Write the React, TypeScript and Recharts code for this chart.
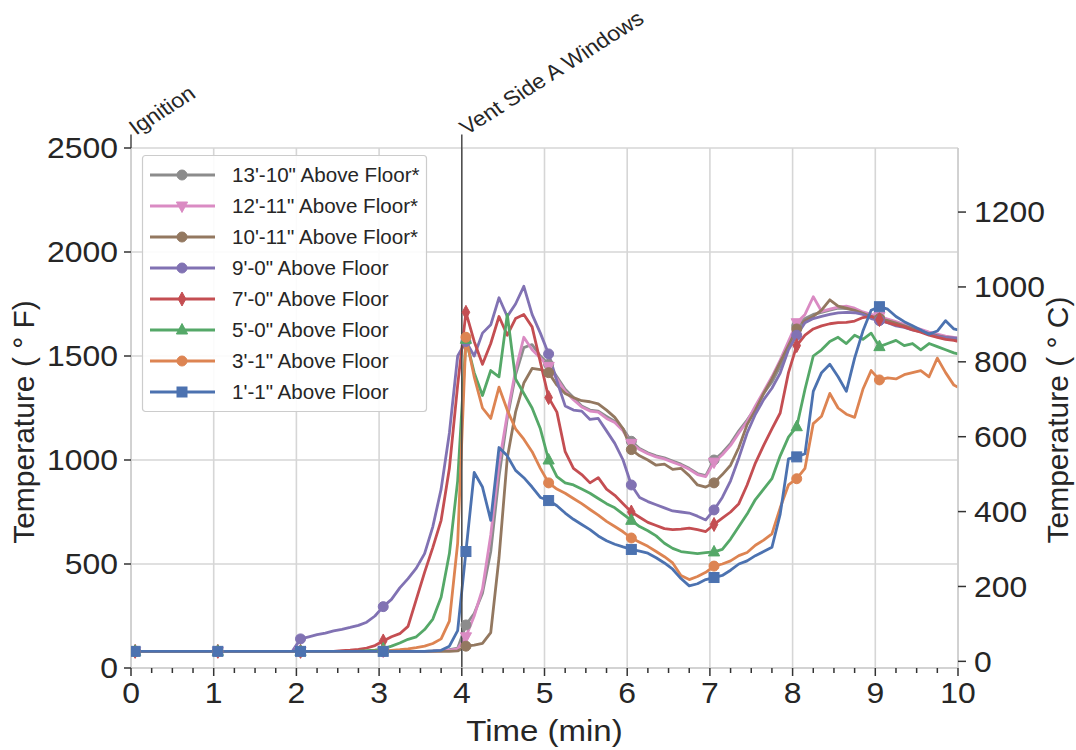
import React from 'react';
import { LineChart, Line, XAxis, YAxis, CartesianGrid, ReferenceLine } from 'recharts';

const FONT = '"Liberation Sans", Arial, Helvetica, sans-serif';
const TEXT = '#262626';

// time (min)
const TIME = [
  0,
  0.05, 0.15, 0.25, 0.35, 0.45, 0.55, 0.65, 0.75, 0.85, 0.95,
  1.05, 1.15, 1.25, 1.35, 1.45, 1.55, 1.65, 1.75, 1.85, 1.95,
  2.05, 2.15, 2.25, 2.35, 2.45, 2.55, 2.65, 2.75, 2.85, 2.95,
  3.05, 3.15, 3.25, 3.35, 3.45, 3.55, 3.65, 3.75, 3.85, 3.95,
  4.05, 4.15, 4.25, 4.35, 4.45, 4.55, 4.65, 4.75, 4.85, 4.95,
  5.05, 5.15, 5.25, 5.35, 5.45, 5.55, 5.65, 5.75, 5.85, 5.95,
  6.05, 6.15, 6.25, 6.35, 6.45, 6.55, 6.65, 6.75, 6.85, 6.95,
  7.05, 7.15, 7.25, 7.35, 7.45, 7.55, 7.65, 7.75, 7.85, 7.95,
  8.05, 8.15, 8.25, 8.35, 8.45, 8.55, 8.65, 8.75, 8.85, 8.95,
  9.05, 9.15, 9.25, 9.35, 9.45, 9.55, 9.65, 9.75, 9.85, 9.95,
  10,
];

// temperatures (°F)
const T_13_10 = [
  80,
  80, 80, 80, 80, 80, 80, 80, 80, 80, 80,
  80, 80, 80, 80, 80, 80, 80, 80, 80, 80,
  80, 80, 80, 80, 80, 80, 80, 80, 80, 80,
  80, 80, 80, 80, 80, 80, 82, 84, 88, 95,
  207, 262, 360, 560, 920, 1200, 1410, 1540, 1555, 1500,
  1460, 1400, 1340, 1300, 1260, 1240, 1235, 1210, 1185, 1150,
  1090, 1055, 1035, 1020, 1010, 995, 980, 960, 935, 925,
  1000, 1035, 1080, 1140, 1192, 1250, 1320, 1375, 1450, 1550,
  1645, 1680, 1700, 1710, 1720, 1730, 1728, 1720, 1705, 1695,
  1685, 1675, 1662, 1650, 1635, 1625, 1612, 1600, 1592, 1587,
  1585,
];
const T_12_11 = [
  80,
  80, 80, 80, 80, 80, 80, 80, 80, 80, 80,
  80, 80, 80, 80, 80, 80, 80, 80, 80, 80,
  80, 80, 80, 80, 80, 80, 80, 80, 80, 80,
  80, 80, 80, 80, 80, 80, 81, 83, 86, 92,
  150, 250, 380, 640, 980, 1220, 1430, 1590, 1530, 1490,
  1450, 1390, 1330, 1290, 1255, 1235, 1230, 1200, 1180, 1140,
  1080, 1050, 1030, 1015, 1005, 990, 975, 955, 930, 920,
  990, 1025, 1070, 1130, 1185, 1260, 1330, 1400, 1480, 1570,
  1660, 1700, 1785, 1715, 1725, 1735, 1740, 1730, 1712, 1700,
  1690, 1678, 1665, 1652, 1640, 1628, 1615, 1605, 1596, 1590,
  1588,
];
const T_10_11 = [
  80,
  80, 80, 80, 80, 80, 80, 80, 80, 80, 80,
  80, 80, 80, 80, 80, 80, 80, 80, 80, 80,
  80, 80, 80, 80, 80, 80, 80, 80, 80, 80,
  80, 80, 80, 80, 80, 80, 80, 80, 80, 82,
  105, 110, 118, 170, 530, 1010, 1230, 1370, 1440, 1435,
  1420, 1360, 1320, 1300, 1285, 1280, 1270, 1240, 1205, 1150,
  1050, 1020, 1000, 975, 980, 955, 960, 925, 880, 870,
  890, 930, 975, 1060, 1170, 1240, 1320, 1390, 1470, 1550,
  1630, 1670, 1690, 1720, 1770, 1740, 1730, 1720, 1705, 1690,
  1680, 1670, 1658, 1645, 1632, 1620, 1608, 1598, 1590, 1585,
  1582,
];
const T_9_0 = [
  80,
  80, 80, 80, 80, 80, 80, 80, 80, 80, 80,
  80, 80, 80, 80, 80, 80, 80, 80, 80, 80,
  140, 150, 160, 168, 178, 186, 195, 205, 220, 250,
  295, 330, 385, 430, 480, 550, 680, 860, 1130, 1500,
  1570, 1500, 1610, 1650, 1780, 1690, 1750, 1835, 1700, 1610,
  1510, 1380, 1260, 1240, 1235, 1195, 1200, 1140, 1080, 1000,
  880, 820, 800, 785, 770, 755, 750, 745, 730, 712,
  760, 820, 900, 1010, 1130, 1220, 1290, 1345, 1418, 1530,
  1600, 1660, 1680, 1690, 1700, 1707, 1710, 1708, 1700, 1680,
  1670, 1660, 1645, 1638, 1625, 1617, 1605, 1595, 1590, 1587,
  1585,
];
const T_7_0 = [
  80,
  80, 80, 80, 80, 80, 80, 80, 80, 80, 80,
  80, 80, 80, 80, 80, 80, 80, 80, 80, 80,
  80, 80, 80, 80, 80, 83, 86, 90, 96, 108,
  130, 150, 165, 200, 330, 460, 580, 710, 960, 1360,
  1710, 1570, 1460, 1560, 1690, 1600, 1680, 1700, 1640, 1470,
  1300, 1230, 1040, 960, 930, 890, 915, 860, 830, 790,
  750, 725, 700, 685, 670, 665, 668, 672, 665, 656,
  690, 720, 750, 790, 880, 985, 1070, 1150, 1226, 1420,
  1550, 1600, 1630, 1645, 1655, 1660, 1662, 1668, 1685, 1690,
  1675, 1660, 1650, 1640, 1625, 1615, 1600, 1590, 1580, 1575,
  1570,
];
const T_5_0 = [
  80,
  80, 80, 80, 80, 80, 80, 80, 80, 80, 80,
  80, 80, 80, 80, 80, 80, 80, 80, 80, 80,
  80, 80, 80, 80, 80, 80, 80, 81, 83, 86,
  92, 105, 120, 138, 150, 185, 235, 340, 550, 900,
  1580, 1420, 1310, 1430, 1400, 1700, 1390, 1320, 1250, 1150,
  1000, 920, 890, 880, 860, 840, 815, 790, 770, 740,
  710, 680, 660, 635, 600, 575, 560, 555, 550, 555,
  558, 570, 620, 680, 740, 810, 860, 910, 1020, 1110,
  1160, 1340, 1500, 1530, 1570, 1590, 1560, 1600, 1580, 1610,
  1545, 1560, 1575, 1550, 1560, 1530, 1560, 1545, 1530, 1515,
  1510,
];
const T_3_1 = [
  80,
  80, 80, 80, 80, 80, 80, 80, 80, 80, 80,
  80, 80, 80, 80, 80, 80, 80, 80, 80, 80,
  80, 80, 80, 80, 80, 80, 80, 80, 80, 81,
  82, 85, 88, 92, 98, 105, 118, 140, 225, 600,
  1590, 1400, 1250, 1200, 1350, 1240, 1150, 1100, 1040, 960,
  890, 860, 840, 815, 790, 762, 735, 705, 680, 655,
  625, 605, 585, 560, 535, 505, 445, 425, 440, 460,
  490, 500, 515, 540, 555, 590, 615, 645, 770, 880,
  910, 960, 1175, 1210, 1320, 1250, 1220, 1205, 1340, 1430,
  1385, 1395, 1390, 1410, 1420, 1430, 1400, 1490, 1420, 1360,
  1350,
];
const T_1_1 = [
  80,
  80, 80, 80, 80, 80, 80, 80, 80, 80, 80,
  80, 80, 80, 80, 80, 80, 80, 80, 80, 80,
  80, 80, 80, 80, 80, 80, 80, 80, 80, 80,
  80, 80, 80, 80, 80, 80, 82, 85, 105, 180,
  560, 940, 870, 710, 1060, 1020, 950, 915, 870, 820,
  805, 780, 745, 715, 690, 665, 635, 612, 595, 582,
  570, 562, 552, 530, 505, 475, 430, 395, 405, 425,
  435, 445, 470, 500, 515, 540, 560, 580, 740, 1005,
  1015, 1030, 1330, 1420, 1460, 1400, 1330, 1490, 1620, 1720,
  1737, 1725, 1690, 1665, 1645, 1625, 1605, 1620, 1670, 1630,
  1625,
];

const SERIES_NAMES = [
  '13\'-10" Above Floor*',
  '12\'-11" Above Floor*',
  '10\'-11" Above Floor*',
  '9\'-0" Above Floor',
  '7\'-0" Above Floor',
  '5\'-0" Above Floor',
  '3\'-1" Above Floor',
  '1\'-1" Above Floor',
];
const SERIES_VALUES = [T_13_10, T_12_11, T_10_11, T_9_0, T_7_0, T_5_0, T_3_1, T_1_1];
const SERIES_COLORS = ['#8C8C8C', '#DA8BC3', '#937860', '#8172B3', '#C44E52', '#55A868', '#DD8452', '#4C72B0'];
const SERIES_MARKERS = ['circle', 'triDown', 'circle', 'circle', 'thinDiamond', 'triUp', 'circle', 'square'];
// markers drawn at these times
const MARKER_TIMES = [0.05, 1.05, 2.05, 3.05, 4.05, 5.05, 6.05, 7.05, 8.05, 9.05];

const F_TICKS = [0, 500, 1000, 1500, 2000, 2500];
const C_TICKS = [0, 200, 400, 600, 800, 1000, 1200];
const X_MAJOR = [0, 1, 2, 3, 4, 5, 6, 7, 8, 9, 10];
const X_TICKS = [
  0, 0.25, 0.5, 0.75, 1, 1.25, 1.5, 1.75, 2, 2.25, 2.5, 2.75, 3, 3.25, 3.5, 3.75,
  4, 4.25, 4.5, 4.75, 5, 5.25, 5.5, 5.75, 6, 6.25, 6.5, 6.75, 7, 7.25, 7.5, 7.75,
  8, 8.25, 8.5, 8.75, 9, 9.25, 9.5, 9.75, 10,
];
const EVENTS = [
  { t: 0, label: 'Ignition', from: 2500 },
  { t: 4, label: 'Vent Side A Windows', from: 0 },
];
const EVENT_TOP = 2565;

const F_MIN = 0;
const F_MAX = 2500;
const C_MIN = ((F_MIN - 32) * 5) / 9;
const C_MAX = ((F_MAX - 32) * 5) / 9;

const TICK_FONT = 29;
const TITLE_FONT = 30;
const STRETCH = 1.1; // horizontal widening of glyphs seen in the reference

function Marker({ shape, cx, cy, color }: { shape: string; cx: number; cy: number; color: string }) {
  switch (shape) {
    case 'square':
      return <rect x={cx - 5} y={cy - 5} width={10} height={10} fill={color} stroke={color} strokeWidth={1} />;
    case 'triUp':
      return <polygon points={`${cx},${cy - 6.5} ${cx - 5.6},${cy + 4} ${cx + 5.6},${cy + 4}`} fill={color} stroke={color} strokeWidth={1} />;
    case 'triDown':
      return <polygon points={`${cx},${cy + 6.5} ${cx - 5.6},${cy - 4} ${cx + 5.6},${cy - 4}`} fill={color} stroke={color} strokeWidth={1} />;
    case 'thinDiamond':
      return <polygon points={`${cx},${cy - 7} ${cx + 3.8},${cy} ${cx},${cy + 7} ${cx - 3.8},${cy}`} fill={color} stroke={color} strokeWidth={1} />;
    default:
      return <circle cx={cx} cy={cy} r={5} fill={color} stroke={color} strokeWidth={1} />;
  }
}

const isMarkerTime = (t: number) => MARKER_TIMES.some((m) => Math.abs(m - t) < 1e-6);

const makeDot = (shape: string, color: string) => (props: any) => {
  const { cx, cy, index, payload } = props;
  if (!payload || !isMarkerTime(payload.t) || cx == null || cy == null) {
    return <g key={`n-${index}`} />;
  }
  return (
    <g key={`m-${index}`}>
      <Marker shape={shape} cx={cx} cy={cy} color={color} />
    </g>
  );
};

// text widened horizontally around its anchor point
const WideText = ({ x, y, anchor, size, children }: any) => (
  <g transform={`translate(${x}, ${y}) scale(${STRETCH}, 1)`}>
    <text x={0} y={0} textAnchor={anchor} fontSize={size} fill={TEXT} fontFamily={FONT}>
      {children}
    </text>
  </g>
);

const XTick = (props: any) => {
  const { x, y, payload } = props;
  const v = payload.value;
  const major = Math.abs(v - Math.round(v)) < 1e-6;
  return (
    <g>
      <line x1={x} x2={x} y1={y} y2={y + (major ? 8 : 5)} stroke="#333" strokeWidth={1.5} />
      {major && (
        <WideText x={x} y={y + 35} anchor="middle" size={TICK_FONT}>
          {v}
        </WideText>
      )}
    </g>
  );
};

const LeftYTick = (props: any) => {
  const { x, y, payload } = props;
  return (
    <WideText x={x} y={y + TICK_FONT * 0.355} anchor="end" size={TICK_FONT}>
      {payload.value}
    </WideText>
  );
};

const RightYTick = (props: any) => {
  const { x, y, payload } = props;
  return (
    <WideText x={x} y={y + TICK_FONT * 0.355} anchor="start" size={TICK_FONT}>
      {payload.value}
    </WideText>
  );
};

const gridX = (args: any) => {
  const { xAxis, offset } = args;
  return X_MAJOR.map((v) =>
    xAxis && typeof xAxis.scale === 'function' ? xAxis.scale(v) : offset.left + (v / 10) * offset.width
  );
};

const XTitle = (props: any) => {
  const vb = props.viewBox || {};
  return (
    <WideText x={vb.x + vb.width / 2} y={vb.y + 73} anchor="middle" size={TITLE_FONT}>
      Time (min)
    </WideText>
  );
};

const LeftTitle = (props: any) => {
  const vb = props.viewBox || {};
  const x = vb.x - 27;
  const y = vb.y + vb.height / 2 + 14;
  return (
    <text x={x} y={y} transform={`rotate(-90, ${x}, ${y})`} textAnchor="middle" fontSize={TITLE_FONT} fill={TEXT} fontFamily={FONT}>
      Temperature ( ° F)
    </text>
  );
};

const RightTitle = (props: any) => {
  const vb = props.viewBox || {};
  const x = vb.x + 110;
  const y = vb.y + vb.height / 2 + 12;
  return (
    <text x={x} y={y} transform={`rotate(-90, ${x}, ${y})`} textAnchor="middle" fontSize={TITLE_FONT} fill={TEXT} fontFamily={FONT}>
      Temperature ( ° C)
    </text>
  );
};

const makeEventLabel = (text: string) => (props: any) => {
  const vb = props.viewBox || {};
  const x = (vb.x ?? 0) + 5;
  const y = (vb.y ?? 0) + 1;
  return (
    <g transform={`translate(${x}, ${y}) scale(${STRETCH}, 1) rotate(-35)`}>
      <text x={0} y={0} fontSize={21} fill={TEXT} fontFamily={FONT}>
        {text}
      </text>
    </g>
  );
};

function LegendBox() {
  return (
    <svg width={288} height={258} style={{ display: 'block', overflow: 'visible' }}>
      <rect x={0.5} y={0.5} width={284} height={256} rx={3} fill="rgba(255,255,255,0.9)" stroke="#cccccc" strokeWidth={1.2} />
      {SERIES_NAMES.map((name, i) => {
        const cy = 20 + i * 31;
        return (
          <g key={name}>
            <line x1={8} x2={73} y1={cy} y2={cy} stroke={SERIES_COLORS[i]} strokeWidth={2.8} />
            <Marker shape={SERIES_MARKERS[i]} cx={40} cy={cy} color={SERIES_COLORS[i]} />
            <g transform={`translate(90, ${cy + 7}) scale(1.03, 1)`}>
              <text x={0} y={0} fontSize={20} fill={TEXT} fontFamily={FONT}>
                {name}
              </text>
            </g>
          </g>
        );
      })}
    </svg>
  );
}

export default function App() {
  const data = TIME.map((t, i) => {
    const row: any = { t };
    SERIES_VALUES.forEach((vals, s) => {
      row[`s${s}`] = vals[i];
    });
    return row;
  });

  return (
    <div style={{ position: 'absolute', left: 0, top: 0, width: 1076, height: 750, background: '#ffffff', fontFamily: FONT }}>
      <LineChart width={1076} height={750} data={data} margin={{ top: 148, right: 48, bottom: 42, left: 61 }}>
        <CartesianGrid yAxisId="left" stroke="#d6d6d6" strokeWidth={1.6} verticalCoordinatesGenerator={gridX} />
        <XAxis
          dataKey="t"
          type="number"
          domain={[0, 10]}
          ticks={X_TICKS}
          interval={0}
          tickSize={0}
          tickMargin={0}
          tickLine={false}
          tick={XTick}
          axisLine={{ stroke: '#cfcfcf', strokeWidth: 1.6 }}
          height={40}
          allowDataOverflow
          label={XTitle}
        />
        <YAxis
          yAxisId="left"
          type="number"
          domain={[F_MIN, F_MAX]}
          ticks={F_TICKS}
          interval={0}
          width={70}
          tickSize={7}
          tickMargin={6}
          tick={LeftYTick}
          tickLine={{ stroke: '#333', strokeWidth: 1.5 }}
          axisLine={{ stroke: '#cfcfcf', strokeWidth: 1.6 }}
          allowDataOverflow
          label={LeftTitle}
        />
        <YAxis
          yAxisId="right"
          orientation="right"
          type="number"
          domain={[C_MIN, C_MAX]}
          ticks={C_TICKS}
          interval={0}
          width={70}
          tickSize={8}
          tickMargin={8}
          tick={RightYTick}
          tickLine={{ stroke: '#333', strokeWidth: 1.5 }}
          axisLine={{ stroke: '#cfcfcf', strokeWidth: 1.6 }}
          allowDataOverflow
          label={RightTitle}
        />
        {SERIES_NAMES.map((name, s) => (
          <Line
            key={name}
            name={name}
            yAxisId="left"
            type="linear"
            dataKey={`s${s}`}
            stroke={SERIES_COLORS[s]}
            strokeWidth={2.8}
            strokeLinejoin="round"
            dot={makeDot(SERIES_MARKERS[s], SERIES_COLORS[s])}
            activeDot={false}
            isAnimationActive={false}
          />
        ))}
        {EVENTS.map((e) => (
          <ReferenceLine
            key={e.label}
            yAxisId="left"
            segment={[
              { x: e.t, y: e.from },
              { x: e.t, y: EVENT_TOP },
            ]}
            stroke="#4a4a4a"
            strokeWidth={1.5}
            ifOverflow="visible"
            label={makeEventLabel(e.label)}
          />
        ))}
      </LineChart>
      <div style={{ position: 'absolute', left: 142, top: 155 }}>
        <LegendBox />
      </div>
    </div>
  );
}
